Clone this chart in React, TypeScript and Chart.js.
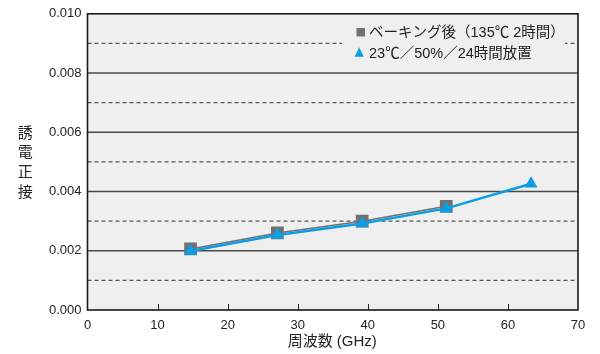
import React, { useEffect, useRef } from "react";
import { Chart, registerables } from "chart.js";

Chart.register(...registerables);

// Frequency (GHz) of each measurement
const frequencies = [14.7, 27.1, 39.2, 51.2, 63.3];
// Dissipation factor after baking (135℃, 2 h)
const bakedValues = [0.00206, 0.0026, 0.003, 0.0035];
// Dissipation factor after 23℃/50%/24 h conditioning
const conditionedValues = [0.00199, 0.00253, 0.00292, 0.00343, 0.00426];

const xTicks = [0, 10, 20, 30, 40, 50, 60, 70];
const yMin = 0;
const yMax = 0.01;
const yStep = 0.001;

const seriesLabels = ["ベーキング後（135℃ 2時間）", "23℃／50%／24時間放置"];
const xTitle = "周波数 (GHz)";
const yTitle = "誘電正接";

const FONT = "'Liberation Sans', Arial, 'Noto Sans CJK JP', sans-serif";
const GRAY = "#717171";
const BLUE = "#0c9ee3";

const framePlugin = {
  id: "frame",
  beforeDatasetsDraw(chart: any) {
    const { ctx, chartArea: a, scales } = chart;
    const ys = scales.y;
    ctx.save();
    ctx.fillStyle = "#efefef";
    ctx.fillRect(a.left, a.top, a.right - a.left, a.bottom - a.top);
    // horizontal grid: solid at even thousandths, dashed at odd ones
    for (const t of ys.ticks) {
      const k = Math.round(t.value / yStep);
      if (k === 0 || k === 10) continue;
      const y = ys.getPixelForValue(t.value);
      ctx.beginPath();
      if (k % 2 === 0) {
        ctx.setLineDash([]);
        ctx.lineWidth = 1.5;
        ctx.strokeStyle = "#4a4a4a";
      } else {
        ctx.setLineDash([4, 3]);
        ctx.lineWidth = 1.2;
        ctx.strokeStyle = "#555";
      }
      ctx.moveTo(a.left, y);
      ctx.lineTo(a.right, y);
      ctx.stroke();
    }
    ctx.restore();
  },
  afterDatasetsDraw(chart: any) {
    const { ctx, chartArea: a, scales } = chart;
    const xs = scales.x;
    ctx.save();
    // inner tick marks on the frequency axis
    ctx.strokeStyle = "#222";
    ctx.lineWidth = 1;
    for (const t of xs.ticks) {
      if (t.value === xs.min || t.value === xs.max) continue;
      const x = Math.round(xs.getPixelForValue(t.value)) + 0.5;
      ctx.beginPath();
      ctx.moveTo(x, a.bottom);
      ctx.lineTo(x, a.bottom - 6);
      ctx.stroke();
    }
    // frame
    ctx.strokeStyle = "#1a1a1a";
    ctx.lineWidth = 1.6;
    ctx.strokeRect(a.left, a.top, a.right - a.left, a.bottom - a.top);

    // legend
    ctx.fillStyle = "#efefef";
    ctx.fillRect(342, 19, 223, 44);
    ctx.fillStyle = GRAY;
    ctx.fillRect(356.5, 28, 8.5, 8.5);
    ctx.fillStyle = BLUE;
    ctx.beginPath();
    ctx.moveTo(359.2, 47.3);
    ctx.lineTo(363.8, 56.8);
    ctx.lineTo(354.6, 56.8);
    ctx.closePath();
    ctx.fill();
    ctx.fillStyle = "#222";
    ctx.font = `14.5px ${FONT}`;
    ctx.textBaseline = "middle";
    ctx.textAlign = "left";
    ctx.fillText(seriesLabels[0], 369, 32.5);
    ctx.fillText(seriesLabels[1], 369, 53.5);

    // axis titles
    ctx.font = `15px ${FONT}`;
    ctx.textAlign = "center";
    ctx.fillText(xTitle, (a.left + a.right) / 2 - 0.5, 341.5);
    const chars = Array.from(yTitle);
    chars.forEach((c, i) => {
      ctx.fillText(c, 25.3, 133.7 + i * 19.6);
    });
    ctx.restore();
  },
};

export default function App() {
  const ref = useRef<HTMLCanvasElement | null>(null);

  useEffect(() => {
    document.body.style.margin = "0";
    const canvas = ref.current;
    if (!canvas) return;
    const chart = new Chart(canvas, {
      type: "line",
      data: {
        datasets: [
          {
            label: seriesLabels[0],
            data: bakedValues.map((v, i) => ({ x: frequencies[i], y: v })),
            borderColor: GRAY,
            backgroundColor: GRAY,
            borderWidth: 1.5,
            pointStyle: "rect",
            pointRadius: 9,
            pointBorderWidth: 0,
            pointBackgroundColor: GRAY,
            order: 2,
          },
          {
            label: seriesLabels[1],
            data: conditionedValues.map((v, i) => ({ x: frequencies[i], y: v })),
            borderColor: BLUE,
            backgroundColor: BLUE,
            borderWidth: 2.5,
            pointStyle: "triangle",
            pointRadius: 7.5,
            pointBorderWidth: 0,
            pointBackgroundColor: BLUE,
            order: 1,
          },
        ],
      },
      options: {
        animation: false,
        responsive: false,
        maintainAspectRatio: false,
        devicePixelRatio: 1,
        layout: { padding: { top: 11, right: 22, left: 0, bottom: 0 } },
        plugins: {
          legend: { display: false },
          tooltip: { enabled: false },
        },
        elements: { line: { tension: 0 } },
        scales: {
          x: {
            type: "linear",
            min: xTicks[0],
            max: xTicks[xTicks.length - 1],
            afterBuildTicks: (s: any) => {
              s.ticks = xTicks.map((v) => ({ value: v }));
            },
            afterFit: (s: any) => {
              s.height = 44;
            },
            grid: { display: false, drawTicks: false },
            border: { display: false },
            ticks: {
              padding: 8,
              color: "#222",
              font: { family: FONT, size: 13 },
              maxRotation: 0,
            },
          },
          y: {
            type: "linear",
            min: yMin,
            max: yMax,
            afterFit: (s: any) => {
              s.width = 87.5;
            },
            grid: { display: false, drawTicks: false },
            border: { display: false },
            ticks: {
              stepSize: yStep,
              padding: 6,
              color: "#222",
              font: { family: FONT, size: 13 },
              autoSkip: false,
              callback: (v: any) =>
                Math.round(Number(v) / yStep) % 2 === 0 ? Number(v).toFixed(3) : "",
            },
          },
        },
      },
      plugins: [framePlugin],
    });
    return () => chart.destroy();
  }, []);

  return (
    <div style={{ width: 600, height: 354, background: "#fff" }}>
      <canvas ref={ref} width={600} height={354} style={{ display: "block" }} />
    </div>
  );
}
